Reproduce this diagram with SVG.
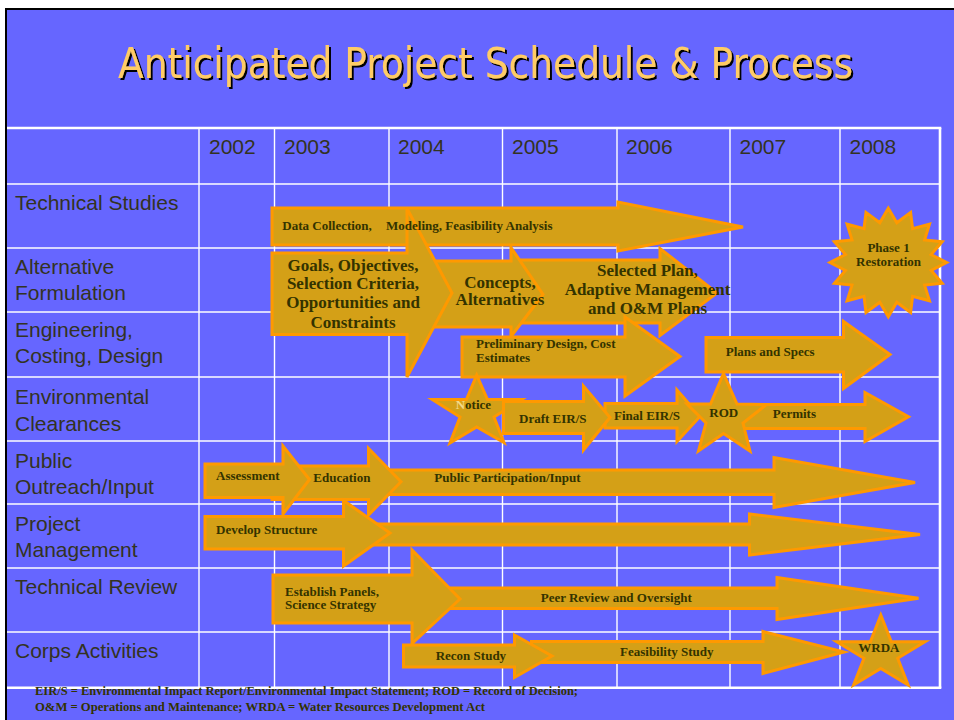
<svg xmlns="http://www.w3.org/2000/svg" width="954" height="720" viewBox="0 0 954 720">
  <defs>
    <style>
      .bar { fill: #D4A017; stroke: #FF9900; stroke-width: 3; stroke-linejoin: miter; }
      .lbl { font-family: "Liberation Serif", "Times New Roman", serif; font-weight: bold; font-size: 13px; fill: #333300; }
      .big { font-size: 17px; }
      .mid { text-anchor: middle; }
      .hdr { font-family: "Liberation Sans", Arial, sans-serif; font-size: 21px; fill: #333322; }
      .thin { stroke: #FFFFFF; stroke-width: 1.4; }
      .thick { stroke: #FFFFFF; stroke-width: 2.6; }
      .title { font-family: "DejaVu Sans Condensed", "DejaVu Sans", Verdana, sans-serif; font-stretch: condensed; font-size: 43px; fill: #FFCC66; }
      .foot { font-family: "Liberation Serif", "Times New Roman", serif; font-weight: bold; font-size: 11.5px; fill: #333300; }
    </style>
    <filter id="shadow" x="-5%" y="-20%" width="110%" height="140%">
      <feDropShadow dx="2" dy="2" stdDeviation="0" flood-color="#000000" flood-opacity="1"/>
    </filter>
  </defs>

  <!-- slide frame -->
  <rect x="0" y="0" width="954" height="720" fill="#FFFFFF"/>
  <rect x="5" y="8" width="949" height="712" fill="#000000"/>
  <rect x="7" y="10" width="947" height="710" fill="#6666FF"/>

  <!-- title with drop shadow -->
  <g id="title">
    <text class="title" x="118" y="77.5" textLength="735" lengthAdjust="spacingAndGlyphs" filter="url(#shadow)">Anticipated Project Schedule &amp; Process</text>
  </g>

  <!-- schedule grid -->
  <g id="grid">
    <line class="thin" x1="7" y1="184" x2="940" y2="184"/>
    <line class="thin" x1="7" y1="248" x2="940" y2="248"/>
    <line class="thin" x1="7" y1="312" x2="940" y2="312"/>
    <line class="thin" x1="7" y1="377" x2="940" y2="377"/>
    <line class="thin" x1="7" y1="441" x2="940" y2="441"/>
    <line class="thin" x1="7" y1="504" x2="940" y2="504"/>
    <line class="thin" x1="7" y1="568" x2="940" y2="568"/>
    <line class="thin" x1="7" y1="632" x2="940" y2="632"/>
    <line class="thin" x1="199" y1="128" x2="199" y2="688"/>
    <line class="thin" x1="274.5" y1="128" x2="274.5" y2="688"/>
    <line class="thin" x1="389" y1="128" x2="389" y2="688"/>
    <line class="thin" x1="502.5" y1="128" x2="502.5" y2="688"/>
    <line class="thin" x1="617" y1="128" x2="617" y2="688"/>
    <line class="thin" x1="730" y1="128" x2="730" y2="688"/>
    <line class="thin" x1="840" y1="128" x2="840" y2="688"/>
    <line class="thick" x1="7" y1="128" x2="941.3" y2="128"/>
    <line class="thick" x1="7" y1="687.7" x2="941.3" y2="687.7"/>
    <line class="thick" x1="940" y1="128" x2="940" y2="688"/>
  </g>

  <!-- column headings -->
  <g id="years">
    <text class="hdr" x="209" y="154">2002</text>
    <text class="hdr" x="284" y="154">2003</text>
    <text class="hdr" x="398" y="154">2004</text>
    <text class="hdr" x="512" y="154">2005</text>
    <text class="hdr" x="626" y="154">2006</text>
    <text class="hdr" x="739.5" y="154">2007</text>
    <text class="hdr" x="849.5" y="154">2008</text>
  </g>

  <!-- row headings -->
  <g id="rows">
    <text class="hdr" x="15" y="210">Technical Studies</text>
    <text class="hdr" x="15" y="274">Alternative</text>
    <text class="hdr" x="15" y="299.5">Formulation</text>
    <text class="hdr" x="15" y="336.5">Engineering,</text>
    <text class="hdr" x="15" y="363">Costing, Design</text>
    <text class="hdr" x="15" y="404">Environmental</text>
    <text class="hdr" x="15" y="430.5">Clearances</text>
    <text class="hdr" x="15" y="467.5">Public</text>
    <text class="hdr" x="15" y="493.5">Outreach/Input</text>
    <text class="hdr" x="15" y="530.5">Project</text>
    <text class="hdr" x="15" y="556.5">Management</text>
    <text class="hdr" x="15" y="594">Technical Review</text>
    <text class="hdr" x="15" y="658">Corps Activities</text>
  </g>

  <!-- Technical Studies -->
  <g id="data-collection">
    <polygon class="bar" points="272,208 618,208 618,202 743,227 618,251 618,245 272,245"/>
  </g>

  <!-- Alternative Formulation -->
  <g id="selected-plan">
    <polygon class="bar" points="520,260 660,260 660,248.5 717,293 660,335.5 660,323 520,323"/>
  </g>
  <g id="concepts">
    <polygon class="bar" points="420,261 511,261 511,247.5 543,294.5 511,336.5 511,327 420,327"/>
  </g>
  <g id="goals">
    <polygon class="bar" points="272,253 407,253 407,208.5 452,293 407,377 407,334.5 272,334.5"/>
  </g>

  <!-- Engineering, Costing, Design -->
  <g id="preliminary-design">
    <polygon class="bar" points="462,337 625,337 625,317 680,356.5 625,396 625,377 462,377"/>
  </g>
  <g id="plans-specs">
    <polygon class="bar" points="706,337.5 843.5,337.5 843.5,321.5 890,354.5 843.5,388.5 843.5,372 706,372"/>
  </g>

  <!-- Environmental Clearances -->
  <g id="notice">
    <polygon class="bar" points="476.7,375 487.5,399.5 521.7,399.5 494,417 504,442.5 476.7,427 450,443 460,417 432.3,399.5 466.4,399.5"/>
  </g>
  <g id="final-eir">
    <polygon class="bar" points="605,403.5 677,403.5 677,390 700,416.5 677,441.5 677,428 605,428"/>
  </g>
  <g id="draft-eir">
    <polygon class="bar" points="503.5,401.5 583.5,401.5 583.5,386 610,417.5 583.5,450 583.5,433.5 503.5,433.5"/>
  </g>
  <g id="permits">
    <polygon class="bar" points="735,404.5 865,404.5 865,392.5 908.5,416.7 865,441.5 865,428.5 735,428.5"/>
  </g>
  <g id="rod">
    <polygon class="bar" points="723.5,373.5 737,404 766.5,404.5 743,423 750,451 723.5,433.5 698.5,451 706,423 687,404 710.5,404"/>
  </g>

  <!-- 2008 milestone -->
  <g id="phase1">
    <polygon class="bar" points="888.3,208.3 896.8,222.7 910.6,212.4 912.6,228.7 929.5,224.2 924.6,239.9 942.2,241.8 931.2,254.6 946.6,262.5 931.2,270.4 942.2,283.2 924.6,285.1 929.5,300.8 912.6,296.3 910.6,312.6 896.8,302.3 888.3,316.7 879.8,302.3 866,312.6 864,296.3 847.1,300.8 852,285.1 834.4,283.2 845.4,270.4 830,262.5 845.4,254.6 834.4,241.8 852,239.9 847.1,224.2 864,228.7 866,212.4 879.8,222.7"/>
  </g>

  <!-- Public Outreach/Input -->
  <g id="participation">
    <polygon class="bar" points="380,470 774,470 774,457.5 915,482.5 774,507.5 774,494.5 380,494.5"/>
  </g>
  <g id="education">
    <polygon class="bar" points="272,466 368.5,466 368.5,448.5 401,481.7 368.5,515 368.5,499.5 272,499.5"/>
  </g>
  <g id="assessment">
    <polygon class="bar" points="205,464 283,464 283,446 309.5,479.5 283,514 283,497.5 205,497.5"/>
  </g>

  <!-- Project Management -->
  <g id="management">
    <polygon class="bar" points="350,524 749.5,524 749.5,514 920,534.5 749.5,555 749.5,545 350,545"/>
  </g>
  <g id="develop-structure">
    <polygon class="bar" points="205,516.5 343.5,516.5 343.5,500.5 390,533 343.5,566 343.5,549 205,549"/>
  </g>

  <!-- Corps Activities -->
  <g id="feasibility">
    <polygon class="bar" points="531.5,641.5 763,641.5 763,631.5 844,652 763,673.5 763,662.5 531.5,662.5"/>
  </g>
  <g id="recon">
    <polygon class="bar" points="403.5,645 514.5,645 514.5,635 552,656 514.5,677.5 514.5,667 403.5,667"/>
  </g>
  <g id="wrda">
    <polygon class="bar" points="880.8,615 891.3,641.7 925,641.7 897.7,658.3 908.1,685 880.8,668.5 853.6,685 864,658.3 836.7,641.7 870.4,641.7"/>
  </g>

  <!-- Technical Review -->
  <g id="peer-review">
    <polygon class="bar" points="420,588 777,588 777,577.5 918.5,598.3 777,619.5 777,608.5 420,608.5"/>
  </g>
  <g id="establish-panels">
    <polygon class="bar" points="273,575 412,575 412,550 460,599 412,643.5 412,623 273,623"/>
  </g>

  <!-- labels on the bars -->
  <g id="bar-labels">
    <text class="lbl" x="282.3" y="230">Data Collection,</text>
    <text class="lbl" x="386" y="230">Modeling, Feasibility Analysis</text>

    <text class="lbl big mid" x="353" y="270.7">Goals, Objectives,</text>
    <text class="lbl big mid" x="353" y="289.3">Selection Criteria,</text>
    <text class="lbl big mid" x="353" y="308.3">Opportunities and</text>
    <text class="lbl big mid" x="353" y="327.7">Constraints</text>

    <text class="lbl big mid" x="500" y="287.5">Concepts,</text>
    <text class="lbl big mid" x="500" y="305">Alternatives</text>

    <text class="lbl big mid" x="647.5" y="276">Selected Plan,</text>
    <text class="lbl big mid" x="647.5" y="295">Adaptive Management</text>
    <text class="lbl big mid" x="647.5" y="314.3">and O&amp;M Plans</text>

    <text class="lbl" x="476" y="348.3">Preliminary Design, Cost</text>
    <text class="lbl" x="476" y="361.7">Estimates</text>
    <text class="lbl" x="725.7" y="355.7">Plans and Specs</text>

    <text class="lbl" x="455.7" y="409"><tspan fill="#F2D98C">N</tspan>otice</text>
    <text class="lbl" x="519" y="423.3">Draft EIR/S</text>
    <text class="lbl" x="614" y="420">Final EIR/S</text>
    <text class="lbl" x="709.3" y="416.7">ROD</text>
    <text class="lbl" x="772.7" y="417.7">Permits</text>

    <text class="lbl mid" x="888.5" y="251.7">Phase 1</text>
    <text class="lbl mid" x="888.5" y="265.7">Restoration</text>

    <text class="lbl" x="216" y="480">Assessment</text>
    <text class="lbl" x="313.3" y="481.7">Education</text>
    <text class="lbl" x="434.3" y="481.7">Public Participation/Input</text>

    <text class="lbl" x="216" y="534.3">Develop Structure</text>

    <text class="lbl" x="285" y="595.7">Establish Panels,</text>
    <text class="lbl" x="285" y="609.3">Science Strategy</text>
    <text class="lbl" x="540.7" y="601.7">Peer Review and Oversight</text>

    <text class="lbl" x="435.7" y="660">Recon Study</text>
    <text class="lbl" x="620" y="655.5">Feasibility Study</text>
    <text class="lbl" x="858.3" y="651.7">WRDA</text>
  </g>

  <!-- abbreviations -->
  <g id="footnote">
    <text class="foot" x="35" y="694.5" textLength="543" lengthAdjust="spacingAndGlyphs">EIR/S = Environmental Impact Report/Environmental Impact Statement; ROD = Record of Decision;</text>
    <text class="foot" x="35" y="710.5" textLength="450" lengthAdjust="spacingAndGlyphs">O&amp;M = Operations and Maintenance; WRDA = Water Resources Development Act</text>
  </g>
</svg>
